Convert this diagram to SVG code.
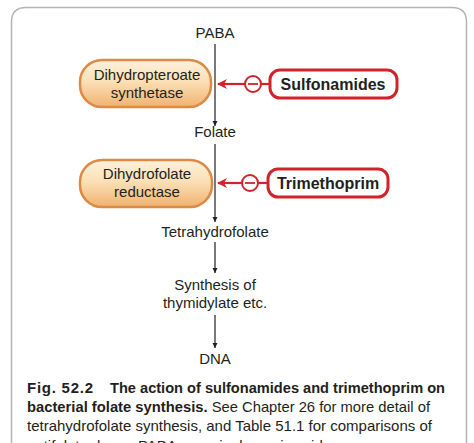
<svg xmlns="http://www.w3.org/2000/svg" width="474" height="443" viewBox="0 0 474 443">
<defs>
<linearGradient id="enz" x1="0" y1="0" x2="0" y2="1">
<stop offset="0" stop-color="#fdf1dc"/>
<stop offset="0.45" stop-color="#fbe0b6"/>
<stop offset="1" stop-color="#f0b270"/>
</linearGradient>
<marker id="ah" viewBox="0 0 10 10" refX="10" refY="5" markerWidth="5" markerHeight="7" orient="auto" markerUnits="userSpaceOnUse">
<path d="M0,0 L10,5 L0,10 z" fill="#231f20"/>
</marker>
<marker id="rh" viewBox="0 0 10 10" refX="9" refY="5" markerWidth="15" markerHeight="10" orient="auto" markerUnits="userSpaceOnUse">
<path d="M0,0 L10,5 L0,10 L3,5 z" fill="#d2232a"/>
</marker>
</defs>
<style>
.t{font-family:"Liberation Sans",Arial,sans-serif;font-size:15px;fill:#231f20;text-anchor:middle}
.b{font-family:"Liberation Sans",Arial,sans-serif;font-size:16px;font-weight:bold;fill:#231f20;text-anchor:middle}
.enz{fill:url(#enz);stroke:#dc8a44;stroke-width:2.5}
.drug{fill:#fff;stroke:#d2232a;stroke-width:3}
.ln{stroke:#231f20;stroke-width:1.2;fill:none}
.red{stroke:#d2232a;stroke-width:2.2;fill:none}
.cap{font-family:"Liberation Sans",Arial,sans-serif;font-size:15px;fill:#231f20}
</style>
<rect x="0" y="0" width="474" height="443" fill="#fff"/>
<path d="M11.5,460 L11.5,22 Q11.5,7.5 26,7.5 L452,7.5 Q466.5,7.5 466.5,22 L466.5,460" fill="none" stroke="#b4b4b4" stroke-width="1.5"/>

<g id="connectors">
<line class="ln" x1="215" y1="44" x2="215" y2="126" marker-end="url(#ah)"/>
<line class="ln" x1="215" y1="144" x2="215" y2="222" marker-end="url(#ah)"/>
<line class="ln" x1="215" y1="242" x2="215" y2="273" marker-end="url(#ah)"/>
<line class="ln" x1="215" y1="315" x2="215" y2="348" marker-end="url(#ah)"/>
<line class="red" x1="245" y1="84" x2="218" y2="84" marker-end="url(#rh)"/>
<line class="red" x1="261" y1="84" x2="270" y2="84"/>
<line class="red" x1="242" y1="183" x2="218" y2="183" marker-end="url(#rh)"/>
<line class="red" x1="258" y1="183" x2="268" y2="183"/>
</g>

<g id="paba"><text class="t" x="215" y="38">PABA</text></g>
<g id="folate"><text class="t" x="215" y="137">Folate</text></g>
<g id="thf"><text class="t" x="215" y="237">Tetrahydrofolate</text></g>
<g id="thymidylate"><text class="t" x="215" y="290">Synthesis of</text><text class="t" x="215" y="308">thymidylate etc.</text></g>
<g id="dna"><text class="t" x="215" y="364">DNA</text></g>

<g id="dhps">
<rect class="enz" x="80" y="60" width="131" height="47" rx="22"/>
<text class="t" x="147" y="80">Dihydropteroate</text>
<text class="t" x="147" y="98">synthetase</text>
</g>
<g id="dhfr">
<rect class="enz" x="80" y="160" width="132" height="47" rx="22"/>
<text class="t" x="147" y="179">Dihydrofolate</text>
<text class="t" x="147" y="197">reductase</text>
</g>

<g id="inh1">
<circle cx="253" cy="84" r="8" fill="#fff" stroke="#d2232a" stroke-width="2"/>
<line x1="248" y1="84" x2="258" y2="84" stroke="#d2232a" stroke-width="1.8"/>
</g>
<g id="inh2">
<circle cx="250" cy="183" r="8" fill="#fff" stroke="#d2232a" stroke-width="2"/>
<line x1="245" y1="183" x2="255" y2="183" stroke="#d2232a" stroke-width="1.8"/>
</g>

<g id="sulfonamides">
<rect class="drug" x="270" y="70" width="127" height="28" rx="10"/>
<text class="b" x="333" y="90">Sulfonamides</text>
</g>
<g id="trimethoprim">
<rect class="drug" x="268" y="169" width="120" height="28" rx="10"/>
<text class="b" x="328" y="189">Trimethoprim</text>
</g>

<g id="caption">
<text class="cap" x="27" y="393"><tspan font-weight="bold" textLength="66">Fig. 52.2</tspan><tspan font-weight="bold" x="110" textLength="335" lengthAdjust="spacingAndGlyphs">The action of sulfonamides and trimethoprim on</tspan></text>
<text class="cap" x="27" y="412" textLength="403" lengthAdjust="spacingAndGlyphs"><tspan font-weight="bold">bacterial folate synthesis.</tspan> See Chapter 26 for more detail of</text>
<text class="cap" x="27" y="431">tetrahydrofolate synthesis, and Table 51.1 for comparisons of</text>
<text class="cap" x="27" y="451">antifolate drugs. PABA, p-aminobenzoic acid.</text>
</g>
</svg>
